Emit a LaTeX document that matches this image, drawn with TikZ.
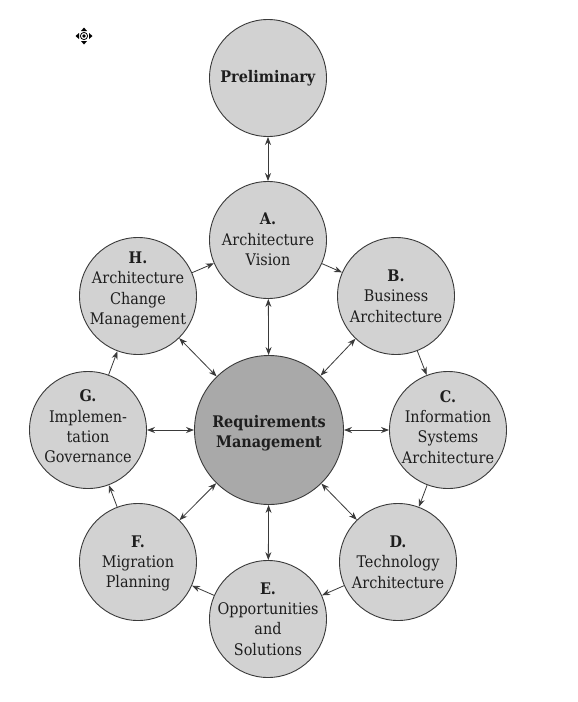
\documentclass[tikz,border=0pt]{standalone}
\usepackage{fontspec}
\setmainfont{DejaVu Serif Condensed}
\usetikzlibrary{arrows.meta}
\definecolor{fillL}{HTML}{D2D2D2}
\definecolor{fillD}{HTML}{A9A9A9}
\definecolor{edgeC}{HTML}{3A3A3A}
\definecolor{txtC}{HTML}{1E1E1E}
\begin{document}
\begin{tikzpicture}[x=1pt,y=-1pt,
  phase/.style={circle, draw=edgeC, line width=0.9pt, fill=fillL, minimum size=117pt, inner sep=0pt},
  core/.style={phase, minimum size=149pt, fill=fillD},
  lbl/.style={inner sep=0pt, align=center, text=txtC, font=\fontsize{16}{20.3}\selectfont},
  tip/.tip={Stealth[length=8pt,width=6pt]},
  flow/.style={-tip, line width=0.8pt, draw=edgeC},
  both/.style={tip-tip, line width=0.8pt, draw=edgeC}]
\fill[white] (0,0) rectangle (578,702);
\useasboundingbox (0,0) rectangle (578,702);

% move icon
\fill[white] (84,36) circle (8);
\draw[black, line width=0.8pt] (84,36) circle (3.6);
\fill[black] (84,36) circle (1.8);
\fill[black] (84,27.5) -- (81,31) -- (87,31) -- cycle;
\fill[black] (84,44.5) -- (81,41) -- (87,41) -- cycle;
\fill[black] (75.5,36) -- (79,33) -- (79,39) -- cycle;
\fill[black] (92.5,36) -- (89,33) -- (89,39) -- cycle;

\node[phase] (P) at (268,78) {};
\node[phase] (A) at (268,240) {};
\node[phase] (B) at (396,296) {};
\node[phase] (C) at (448,430) {};
\node[phase] (D) at (398,562) {};
\node[phase] (E) at (268,619) {};
\node[phase] (F) at (138,562) {};
\node[phase] (G) at (88,430) {};
\node[phase] (H) at (138,296) {};
\node[core] (R) at (269,430) {};

\node[lbl] (Pt) at (268,78) {\textbf{Preliminary}};
\node[lbl] (At) at (268,239.5) {\textbf{A.}\\Architecture\\Vision};
\node[lbl] (Bt) at (396,296) {\textbf{B.}\\Business\\Architecture};
\node[lbl] (Ct) at (448,427) {\textbf{C.}\\Information\\Systems\\Architecture};
\node[lbl] (Dt) at (398,562) {\textbf{D.}\\Technology\\Architecture};
\node[lbl] (Et) at (268,619) {\textbf{E.}\\Opportunities\\and\\Solutions};
\node[lbl] (Ft) at (138,563.5) {\textbf{F.}\\Migration\\Planning};
\node[lbl] (Gt) at (88,426.5) {\textbf{G.}\\Implemen-\\tation\\Governance};
\node[lbl] (Ht) at (138,290) {\textbf{H.}\\Architecture\\Change\\Management};
\node[lbl] (Rt) at (269,433) {\textbf{Requirements}\\\textbf{Management}};

\draw[both] (P) -- (A);
\foreach \n in {A,B,C,D,E,F,G,H} \draw[both] (R) -- (\n);
\draw[flow] (A) -- (B);
\draw[flow] (B) -- (C);
\draw[flow] (C) -- (D);
\draw[flow] (D) -- (E);
\draw[flow] (E) -- (F);
\draw[flow] (F) -- (G);
\draw[flow] (G) -- (H);
\draw[flow] (H) -- (A);
\end{tikzpicture}
\end{document}
